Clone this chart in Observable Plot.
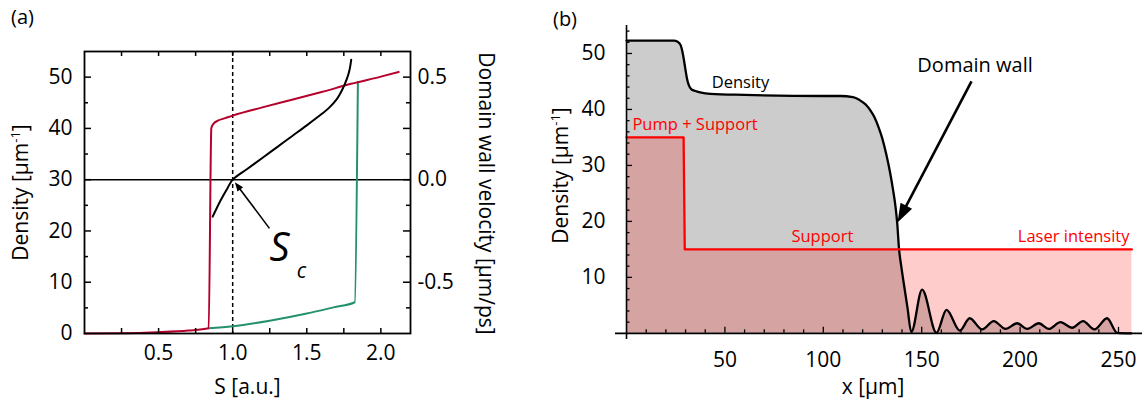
<!DOCTYPE html>
<html><head><meta charset="utf-8">
<script src="https://cdn.jsdelivr.net/npm/d3@7"></script>
<script src="https://cdn.jsdelivr.net/npm/@observablehq/plot@0.6"></script>
<style>
body{margin:0;background:#fff;}
#wrap{position:relative;width:1144px;height:401px;overflow:hidden;background:#fff;}
#wrap > svg{position:absolute;top:0;}
</style></head><body><div id="wrap"></div>
<script>
// ---------- Panel (a) data ----------
const redS = [0, 0.25, 0.49, 0.70, 0.838, 0.856, 0.87, 0.90, 0.95, 1.0, 1.2, 1.4, 1.6, 1.8, 2.0, 2.12];
const redD = [0, 0.05, 0.25, 0.58, 1.03, 40.1, 40.9, 41.5, 42.0, 42.5, 44.1, 45.6, 47.1, 48.7, 50.1, 51.0];
const greenS = [0.838, 1.0, 1.25, 1.5, 1.68, 1.824, 1.845];
const greenD = [1.03, 1.42, 2.5, 3.9, 5.1, 6.1, 49.1];
const velS = [0.865, 0.919, 0.966, 1.0, 1.1, 1.2, 1.3, 1.4, 1.5, 1.6, 1.65, 1.7, 1.74, 1.77, 1.79, 1.80];
const velV = [-0.18, -0.10, -0.04, 0, 0.053, 0.106, 0.159, 0.212, 0.265, 0.32, 0.35, 0.39, 0.44, 0.49, 0.54, 0.585];
const sCritical = 1.0;
const densityAtZeroVel = 30;
const densityPerVel = 40;
const sTicks = [0.5, 1.0, 1.5, 2.0];
const sMinorTicks = [0.25, 0.5, 0.75, 1.0, 1.25, 1.5, 1.75, 2.0];
const densTicksA = [0, 10, 20, 30, 40, 50];
const densMinorA = [5, 15, 25, 35, 45];
const velTicks = [-0.5, 0.0, 0.5];
const scLabel = [{S: 1.316, D: 16.7, t: "S", size: 40}, {S: 1.464, D: 12.2, t: "c", size: 21}];
const scArrow = {x1: 1.248, y1: 20.5, x2: 1.015, y2: 29.5};

// ---------- Panel (b) data ----------
const posX = [0, 10, 20, 24, 26, 27.5, 28.3, 29.2, 30, 30.8, 31.7, 33, 35, 38, 42.7, 60, 100, 108.7, 115, 118, 120, 122, 124, 126, 128, 130, 132, 134, 135.5, 136.7, 137.6, 138.4, 139.6, 140.9, 142.8, 144.7, 150.2, 157.5, 162.6, 169.4, 174.4, 180.7, 186.6, 192.6, 198.5, 203.6, 209.5, 214.6, 220.5, 226.5, 232, 237.8, 244.2, 249.3, 256.5];
const densB = [52.3, 52.3, 52.3, 52.3, 52.1, 51.5, 50.5, 48.8, 47.0, 45.4, 44.3, 43.6, 43.3, 43.0, 42.8, 42.6, 42.4, 42.4, 42.2, 41.8, 41.3, 40.7, 39.8, 38.6, 36.9, 34.8, 32.0, 28.6, 25.5, 22.6, 19.5, 15.4, 12.0, 8.9, 4.5, 0.2, 7.8, 0.1, 4.2, 0.5, 2.7, 0.7, 2.2, 0.8, 1.8, 0.8, 1.8, 0.8, 2.0, 1.0, 2.2, 0.7, 2.7, 0.1, 0];
const laserX = [0, 29.0, 29.6, 256.8];
const laserI = [35, 35, 15, 15];
const bXTicks = d3.range(10, 251, 10);
const bXLabels = [50, 100, 150, 200, 250];
const bYTicks = d3.range(2, 55, 2);
const bYLabels = [10, 20, 30, 40, 50];
const bLabels = [
  {x: 57.9, y: 44.8, t: "Density", color: "black", anchor: "middle", size: 16.5},
  {x: 3.0, y: 37.3, t: "Pump + Support", color: "red", anchor: "start", size: 16.5},
  {x: 83.8, y: 17.3, t: "Support", color: "red", anchor: "start", size: 16.5},
  {x: 255.6, y: 17.3, t: "Laser intensity", color: "red", anchor: "end", size: 16.5},
  {x: 177.1, y: 47.9, t: "Domain wall", color: "black", anchor: "middle", size: 20}
];
const wallArrow = {x1: 175.3, y1: 45.0, x2: 137.7, y2: 19.8};

const RED_A = "#b5002b", GREEN_A = "#23916a";
const FONT = "'Open Sans', sans-serif";

const redData = redS.map((s, i) => ({S: s, D: redD[i]}));
const greenData = greenS.map((s, i) => ({S: s, D: greenD[i]}));
const velData = velS.map((s, i) => ({S: s, v: velV[i]}));
const densData = posX.map((x, i) => ({x, d: densB[i]}));
const laserData = laserX.map((x, i) => ({x, i: laserI[i]}));

function headSymbol(len, half) {
  return {draw(ctx) { ctx.moveTo(0, 0); ctx.lineTo(half, len); ctx.lineTo(-half, len); ctx.closePath(); }};
}
function makeArrow(a, geo, headLen, headHalf, sw) {
  const px = x => geo.ml + (x - geo.x0) * geo.kx, py = y => geo.mt + (geo.y1 - y) * geo.ky;
  const ix = p => geo.x0 + (p - geo.ml) / geo.kx, iy = p => geo.y1 - (p - geo.mt) / geo.ky;
  const X1 = px(a.x1), Y1 = py(a.y1), X2 = px(a.x2), Y2 = py(a.y2);
  const dx = X2 - X1, dy = Y2 - Y1, L = Math.hypot(dx, dy);
  const bx = X2 - dx / L * headLen * 0.75, by = Y2 - dy / L * headLen * 0.75;
  const rot = Math.atan2(dx, -dy) * 180 / Math.PI;
  return [
    Plot.link([{x1: a.x1, y1: a.y1, x2: ix(bx), y2: iy(by)}], {x1: "x1", y1: "y1", x2: "x2", y2: "y2", stroke: "black", strokeWidth: sw}),
    Plot.dot([a], {x: "x2", y: "y2", symbol: headSymbol(headLen, headHalf), rotate: rot, fill: "black", stroke: "none", r: 5})
  ];
}
function superscript(svg, full, base, sup, tail) {
  d3.select(svg).selectAll("text").filter(function() { return this.textContent === full; }).each(function() {
    const t = d3.select(this); t.text(null);
    t.append("tspan").text(base);
    t.append("tspan").attr("dy", -8).attr("font-size", "13px").text(sup);
    t.append("tspan").attr("dy", 8).text(tail);
  });
}

// ---------- Panel (a) ----------
const A = {W: 540, H: 401, ml: 84, mr: 130, mt: 51, mb: 68};
const aFW = A.W - A.ml - A.mr, aFH = A.H - A.mt - A.mb;
const aGeo = {ml: A.ml, mt: A.mt, x0: 0, y1: 55, kx: aFW / 2.2, ky: aFH / 55};
const vToD = v => densityAtZeroVel + densityPerVel * v;

const plotA = Plot.plot({
  width: A.W, height: A.H, marginLeft: A.ml, marginRight: A.mr, marginTop: A.mt, marginBottom: A.mb,
  x: {domain: [0, 2.2]}, y: {domain: [0, 55]},
  style: {fontFamily: FONT, fontSize: "21px", color: "black", background: "white", overflow: "visible"},
  marks: [
    Plot.ruleY([densityAtZeroVel], {strokeWidth: 1.5}),
    Plot.ruleX([sCritical], {strokeDasharray: "4,3", strokeWidth: 1.5}),
    Plot.line(greenData, {x: "S", y: "D", stroke: GREEN_A, strokeWidth: 2, curve: "monotone-x"}),
    Plot.line(redData, {x: "S", y: "D", stroke: RED_A, strokeWidth: 2, curve: "monotone-x"}),
    Plot.line(velData, {x: "S", y: d => vToD(d.v), stroke: "black", strokeWidth: 2, curve: "catmull-rom"}),
    Plot.ruleX(sMinorTicks, {x: d => d, insetTop: aFH - 5, strokeWidth: 1.5}),
    Plot.ruleX(sMinorTicks, {x: d => d, insetBottom: aFH - 5, strokeWidth: 1.5}),
    Plot.ruleY(densTicksA.slice(1), {y: d => d, insetRight: aFW - 7, strokeWidth: 1.5}),
    Plot.ruleY(densMinorA, {y: d => d, insetRight: aFW - 4, strokeWidth: 1.5}),
    Plot.ruleY(densTicksA.slice(1), {y: d => d, insetLeft: aFW - 7, strokeWidth: 1.5}),
    Plot.ruleY(densMinorA, {y: d => d, insetLeft: aFW - 4, strokeWidth: 1.5}),
    Plot.frame({strokeWidth: 1.8}),
    Plot.axisX({ticks: sTicks, tickSize: 0, tickPadding: 12, tickFormat: d => d.toFixed(1), label: null}),
    Plot.axisY({ticks: densTicksA, tickSize: 0, tickPadding: 12, label: null}),
    Plot.axisY({anchor: "right", ticks: velTicks.map(vToD), tickSize: 0, tickPadding: 7,
      tickFormat: d => ((d - densityAtZeroVel) / densityPerVel).toFixed(1), label: null}),
    ...makeArrow(scArrow, aGeo, 9, 3.5, 1.6),
    Plot.text(scLabel, {x: "S", y: "D", text: "t", fontSize: d => d.size, fontStyle: "italic", textAnchor: "middle", lineAnchor: "middle"}),
    Plot.text(["(a)"], {text: d => d, frameAnchor: "top-left", dx: -62, dy: -34, textAnchor: "middle", lineAnchor: "middle", fontSize: 20}),
    Plot.text(["Density [µm-1]"], {text: d => d, frameAnchor: "left", rotate: -90, dx: -63, textAnchor: "middle", lineAnchor: "middle", fontSize: 21}),
    Plot.text(["Domain wall velocity [µm/ps]"], {text: d => d, frameAnchor: "right", rotate: 90, dx: 75, dy: 1, textAnchor: "middle", lineAnchor: "middle", fontSize: 21}),
    Plot.text(["S [a.u.]"], {text: d => d, frameAnchor: "bottom", dy: 54, textAnchor: "middle", lineAnchor: "middle", fontSize: 21})
  ]
});
plotA.style.left = "0px";
superscript(plotA, "Density [µm-1]", "Density [µm", "-1", "]");

// ---------- Panel (b) ----------
const B = {W: 604, H: 401, ml: 75, mr: 2, mt: 25, mb: 62};
const bX0 = -5.6, bX1 = 262.2, bY0 = -1.1, bY1 = 55;
const bFW = B.W - B.ml - B.mr, bFH = B.H - B.mt - B.mb;
const bGeo = {ml: B.ml, mt: B.mt, x0: bX0, y1: bY1, kx: bFW / (bX1 - bX0), ky: bFH / (bY1 - bY0)};
const dPerPx = 1 / bGeo.ky, xPerPx = 1 / bGeo.kx;
const labelMark = anchor => Plot.text(bLabels.filter(d => d.anchor === anchor),
  {x: "x", y: "y", text: "t", fill: "color", textAnchor: anchor, fontSize: d => d.size, lineAnchor: "middle"});

const plotB = Plot.plot({
  width: B.W, height: B.H, marginLeft: B.ml, marginRight: B.mr, marginTop: B.mt, marginBottom: B.mb,
  x: {domain: [bX0, bX1]}, y: {domain: [bY0, bY1]},
  style: {fontFamily: FONT, fontSize: "21px", color: "black", background: "white", overflow: "visible"},
  marks: [
    Plot.areaY(densData, {x: "x", y: "d", fill: "#cccccc", curve: "monotone-x"}),
    Plot.areaY(laserData, {x: "x", y: "i", fill: "red", fillOpacity: 0.2}),
    Plot.line(densData, {x: "x", y: "d", stroke: "black", strokeWidth: 2.3, curve: "monotone-x"}),
    Plot.line(laserData, {x: "x", y: "i", stroke: "red", strokeWidth: 2.3}),
    Plot.ruleY([0], {strokeWidth: 1.6}),
    Plot.ruleX([0], {strokeWidth: 1.6}),
    Plot.ruleX(bXTicks, {x: d => d, y1: 0, y2: d => (d % 50 === 0 ? 6 : 3.5) * dPerPx, strokeWidth: 1.3}),
    Plot.ruleY(bYTicks, {y: d => d, x1: 0, x2: d => (d % 10 === 0 ? 6 : 3.5) * xPerPx, strokeWidth: 1.3}),
    Plot.axisX({ticks: bXLabels, tickSize: 0, tickPadding: 13, label: null}),
    Plot.axisY({ticks: bYLabels, tickSize: 0, tickPadding: 10, label: null}),
    labelMark("start"), labelMark("middle"), labelMark("end"),
    ...makeArrow(wallArrow, bGeo, 19, 6.5, 2.6),
    Plot.text(["(b)"], {text: d => d, frameAnchor: "top-left", dx: -50.5, dy: -6, textAnchor: "middle", lineAnchor: "middle", fontSize: 20}),
    Plot.text(["Density [µm-1]"], {text: d => d, frameAnchor: "left", rotate: -90, dx: -54, dy: -7, textAnchor: "middle", lineAnchor: "middle", fontSize: 21}),
    Plot.text(["x [µm]"], {text: d => d, frameAnchor: "bottom", dx: -6, dy: 48, textAnchor: "middle", lineAnchor: "middle", fontSize: 21})
  ]
});
plotB.style.left = "540px";
superscript(plotB, "Density [µm-1]", "Density [µm", "-1", "]");

document.getElementById("wrap").append(plotA, plotB);
</script></body></html>
